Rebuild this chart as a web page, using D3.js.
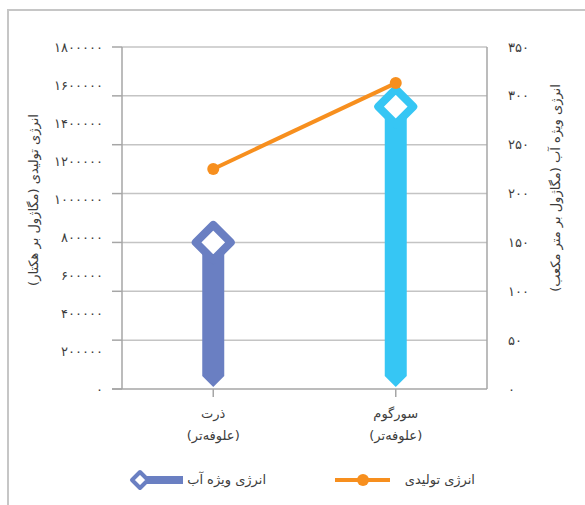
<!DOCTYPE html>
<html>
<head>
<meta charset="utf-8">
<script src="https://cdn.jsdelivr.net/npm/d3@7"></script>
<style>
  body { margin: 0; background: #fff; }
  text { font-family: "DejaVu Sans", sans-serif; fill: #3c3c3c; }
</style>
</head>
<body>
<div id="chart"></div>
<script>
const categories = ['ذرت', 'سورگوم']
const subLabels = ['(علوفه‌تر)', '(علوفه‌تر)']
const waterEnergy = [150, 289]            // right axis
const producedEnergy = [1158000, 1610000] // left axis
const leftTicks = [0, 200000, 400000, 600000, 800000, 1000000, 1200000, 1400000, 1600000, 1800000]
const rightTicks = [0, 50, 100, 150, 200, 250, 300, 350]
const barColors = ['#6a7fc2', '#36c6f4']
const lineColor = '#f78f1e'

const w = 585
const h = 505
const padL = 122, padR = 487, padT = 47, padB = 389
const fs = '13px'

function fa(n) {
  return String(n).replace(/\d/g, d => '۰۱۲۳۴۵۶۷۸۹'[d])
}

const x = d3.scaleBand().domain(categories).range([padL, padR])
const yL = d3.scaleLinear().domain([0, 1800000]).range([padB, padT])
const yR = d3.scaleLinear().domain([0, 350]).range([padB, padT])
const cx = i => x(categories[i]) + x.bandwidth() / 2

const svg = d3.select('#chart').append('svg')
  .attr('width', w).attr('height', h)

// frame
svg.append('rect')
  .attr('x', 8).attr('y', 10).attr('width', 600).attr('height', 520)
  .attr('fill', 'none').attr('stroke', '#c6c6c6').attr('stroke-width', 2)

// gridlines (from right axis)
svg.append('g').selectAll('line')
  .data(rightTicks.slice(1))
  .enter().append('line')
  .attr('x1', padL).attr('x2', padR)
  .attr('y1', d => yR(d)).attr('y2', d => yR(d))
  .attr('stroke', '#c4c4c4').attr('stroke-width', 1.5)

// left axis labels
const gL = svg.append('g').attr('transform', `translate(${padL},0)`)
  .call(d3.axisLeft(yL).tickValues(leftTicks).tickSize(0).tickPadding(19).tickFormat(fa))
gL.select('.domain').remove()
gL.selectAll('text').style('font-size', fs).style('font-family', '"DejaVu Sans", sans-serif').attr('fill', '#3c3c3c')

// left tick marks + axis line
svg.append('g').selectAll('line')
  .data(rightTicks)
  .enter().append('line')
  .attr('x1', padL - 10).attr('x2', padL)
  .attr('y1', d => yR(d)).attr('y2', d => yR(d))
  .attr('stroke', '#a6a6a6').attr('stroke-width', 1.5)
svg.append('line').attr('x1', padL).attr('x2', padL).attr('y1', padT).attr('y2', padB)
  .attr('stroke', '#a6a6a6').attr('stroke-width', 1.5)

// right axis
svg.append('line').attr('x1', padR).attr('x2', padR).attr('y1', padT).attr('y2', padB)
  .attr('stroke', '#a6a6a6').attr('stroke-width', 1.5)
svg.append('g').selectAll('text')
  .data(rightTicks)
  .enter().append('text')
  .attr('x', 508).attr('y', d => yR(d)).attr('dy', '0.35em')
  .attr('text-anchor', 'start')
  .style('font-size', fs)
  .text(d => fa(d))

// x axis
svg.append('line').attr('x1', padL - 10).attr('x2', padR).attr('y1', padB).attr('y2', padB)
  .attr('stroke', '#a6a6a6').attr('stroke-width', 1.5)
svg.append('g').selectAll('line')
  .data(categories)
  .enter().append('line')
  .attr('x1', (d, i) => cx(i)).attr('x2', (d, i) => cx(i))
  .attr('y1', padB).attr('y2', padB + 8)
  .attr('stroke', '#a6a6a6').attr('stroke-width', 1.5)
svg.append('g').selectAll('text')
  .data(categories)
  .enter().append('text')
  .attr('x', (d, i) => cx(i)).attr('y', 418)
  .attr('text-anchor', 'middle').style('font-size', fs)
  .text(d => d)
svg.append('g').selectAll('text')
  .data(subLabels)
  .enter().append('text')
  .attr('x', (d, i) => cx(i)).attr('y', 440)
  .attr('text-anchor', 'middle').style('font-size', fs)
  .text(d => d)

// axis titles
svg.append('text')
  .attr('transform', 'translate(38,200) rotate(-90)')
  .attr('text-anchor', 'middle').style('font-size', fs)
  .text('انرژی تولیدی (مگاژول بر هکتار)')
svg.append('text')
  .attr('transform', 'translate(560,188) rotate(-90)')
  .attr('text-anchor', 'middle').style('font-size', fs)
  .text('انرژی ویژه آب (مگاژول بر متر مکعب)')

// bars with pointed bottom
const bw = 11
svg.append('g').selectAll('path')
  .data(waterEnergy)
  .enter().append('path')
  .attr('d', (d, i) => {
    const c = cx(i)
    const yt = yR(d)
    const yb = yR(0) - 2
    return `M${c - bw},${yt} L${c + bw},${yt} L${c + bw},${yb - bw} L${c},${yb} L${c - bw},${yb - bw} Z`
  })
  .attr('fill', (d, i) => barColors[i])

// diamond markers
function diamond(px, py, r) {
  return `M${px},${py - r} L${px + r},${py} L${px},${py + r} L${px - r},${py} Z`
}
svg.append('g').selectAll('path')
  .data(waterEnergy)
  .enter().append('path')
  .attr('d', (d, i) => diamond(cx(i), yR(d), 17.5))
  .attr('fill', '#fff')
  .attr('stroke', (d, i) => barColors[i])
  .attr('stroke-width', 8)
  .attr('stroke-linejoin', 'round')

// orange line
const line = d3.line()
  .x((d, i) => cx(i))
  .y(d => yL(d))
svg.append('path')
  .datum(producedEnergy)
  .attr('d', line)
  .attr('fill', 'none').attr('stroke', lineColor).attr('stroke-width', 4)
svg.append('g').selectAll('circle')
  .data(producedEnergy)
  .enter().append('circle')
  .attr('cx', (d, i) => cx(i))
  .attr('cy', d => yL(d))
  .attr('r', 6)
  .attr('fill', lineColor)

// legend
const lg = svg.append('g')
lg.append('rect').attr('x', 140).attr('y', 476).attr('width', 43).attr('height', 8)
  .attr('fill', barColors[0])
lg.append('path').attr('d', diamond(140, 480, 8))
  .attr('fill', '#fff').attr('stroke', barColors[0]).attr('stroke-width', 4)
  .attr('stroke-linejoin', 'round')
lg.append('text').attr('x', 266).attr('y', 484)
  .attr('text-anchor', 'end').style('font-size', fs)
  .text('انرژی ویژه آب')
lg.append('line').attr('x1', 335).attr('x2', 390).attr('y1', 480).attr('y2', 480)
  .attr('stroke', lineColor).attr('stroke-width', 4)
lg.append('circle').attr('cx', 363).attr('cy', 480).attr('r', 6).attr('fill', lineColor)
lg.append('text').attr('x', 475).attr('y', 484)
  .attr('text-anchor', 'end').style('font-size', fs)
  .text('انرژی تولیدی')
</script>
</body>
</html>
